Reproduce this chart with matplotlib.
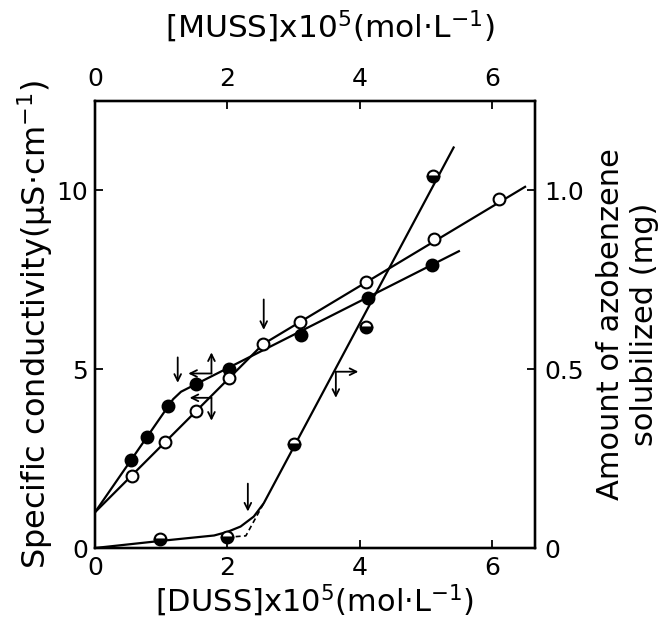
"""Conductivity of MUSS / DUSS and azobenzene solubilization vs surfactant conc."""
import matplotlib
matplotlib.use("Agg")
import matplotlib.pyplot as plt

# ── data ──
# filled circles: MUSS conductivity (top axis, left axis)
muss_x = [0.55, 0.79, 1.11, 1.52, 2.02, 3.11, 4.13, 5.10]
muss_cond = [2.47, 3.10, 3.97, 4.58, 5.00, 5.96, 7.00, 7.92]
muss_fit_x = [0.0, 1.18, 1.30, 5.50]
muss_fit_y = [1.0, 4.16, 4.37, 8.30]

# open circles: DUSS conductivity (bottom axis, left axis)
duss_x = [0.56, 1.06, 1.53, 2.03, 2.54, 3.10, 4.10, 5.12, 6.10]
duss_cond = [2.00, 2.96, 3.83, 4.74, 5.70, 6.31, 7.45, 8.65, 9.76]
duss_fit_x = [0.0, 2.54, 6.50]
duss_fit_y = [1.0, 5.70, 10.10]

# half-filled circles: azobenzene solubilized (bottom axis, right axis)
azo_x = [0.98, 2.00, 3.01, 4.10, 5.11]
azo_mg = [0.024, 0.030, 0.291, 0.619, 1.041]
azo_fit_x = [0.0, 1.0, 1.8, 2.0, 2.2, 2.4, 2.55, 5.42]
azo_fit_y = [0.0, 0.02, 0.035, 0.045, 0.06, 0.088, 0.125, 1.12]
azo_dash_x = [2.0, 2.28, 2.55]
azo_dash_y = [0.03, 0.034, 0.125]

# arrows (start, end) in left-axis data units
arrows = [
    ((2.55, 6.95), (2.55, 6.10)),
    ((1.25, 5.33), (1.25, 4.62)),
    ((1.76, 4.88), (1.76, 5.47)),
    ((1.76, 4.88), (1.41, 4.88)),
    ((1.76, 4.20), (1.76, 3.56)),
    ((1.76, 4.20), (1.43, 4.20)),
    ((3.64, 4.93), (3.98, 4.93)),
    ((3.64, 4.93), (3.64, 4.20)),
    ((2.31, 1.80), (2.31, 1.02)),
]

XMAX = 6.65
YMAX = 12.5
FS_TICK = 18

fig = plt.figure(figsize=(6.65, 6.26), dpi=100)
ax = fig.add_axes([95 / 665, 1 - 548 / 626, 440 / 665, 447 / 626])
ax_top = ax.twiny()
ax_r = ax.twinx()

lw = 1.6
ax.plot(muss_fit_x, muss_fit_y, color="black", lw=lw, zorder=2)
ax.plot(duss_fit_x, duss_fit_y, color="black", lw=lw, zorder=2)
ax.plot(muss_x, muss_cond, ls="none", marker="o", ms=8.5, mfc="black",
        mec="black", mew=1.5, zorder=3)
ax.plot(duss_x, duss_cond, ls="none", marker="o", ms=8.5, mfc="white",
        mec="black", mew=1.5, zorder=3)

ax_r.plot(azo_fit_x, azo_fit_y, color="black", lw=lw, zorder=2)
ax_r.plot(azo_dash_x, azo_dash_y, color="black", lw=1.2, ls=(0, (3, 2)), zorder=2)
ax_r.plot(azo_x, azo_mg, ls="none", marker="o", ms=8.5, fillstyle="bottom",
          mfc="black", mfcalt="white", mec="black", mew=1.5, zorder=3)

for start, end in arrows:
    ax.annotate("", xy=end, xytext=start,
                arrowprops=dict(arrowstyle="->", lw=1.3, color="black",
                                mutation_scale=12, shrinkA=0, shrinkB=0))

# ── axes ──
ax.set_xlim(0, XMAX)
ax.set_ylim(0, YMAX)
ax_top.set_xlim(0, XMAX)
ax_r.set_ylim(0, YMAX / 10)

ax.set_xticks([0, 2, 4, 6])
ax.set_yticks([0, 5, 10])
ax_top.set_xticks([0, 2, 4, 6])
ax_r.set_yticks([0, 0.5, 1.0])
ax_r.set_yticklabels(["0", "0.5", "1.0"])

for a in (ax, ax_top, ax_r):
    a.tick_params(direction="in", length=6, width=1.3, labelsize=FS_TICK)
    for s in a.spines.values():
        s.set_linewidth(1.6)
ax.tick_params(axis="x", pad=6)
ax.tick_params(axis="y", pad=5)
ax_top.tick_params(axis="x", pad=7)
ax_r.tick_params(axis="y", pad=7)

ax.set_xlabel("[DUSS]x10$^5$(mol·L$^{-1}$)", fontsize=22, labelpad=2)
ax_top.set_xlabel("[MUSS]x10$^5$(mol·L$^{-1}$)", fontsize=22.5)
ax_top.xaxis.set_label_coords(0.535, 1.125)
ax_top.xaxis.label.set_va("bottom")
ax.set_ylabel("Specific conductivity(μS·cm$^{-1}$)", fontsize=23, labelpad=1)
ax_r.set_ylabel("Amount of azobenzene\nsolubilized (mg)", fontsize=22,
                rotation=90, labelpad=8, multialignment="center",
                linespacing=1.25)

fig.savefig("out.png", dpi=100)
